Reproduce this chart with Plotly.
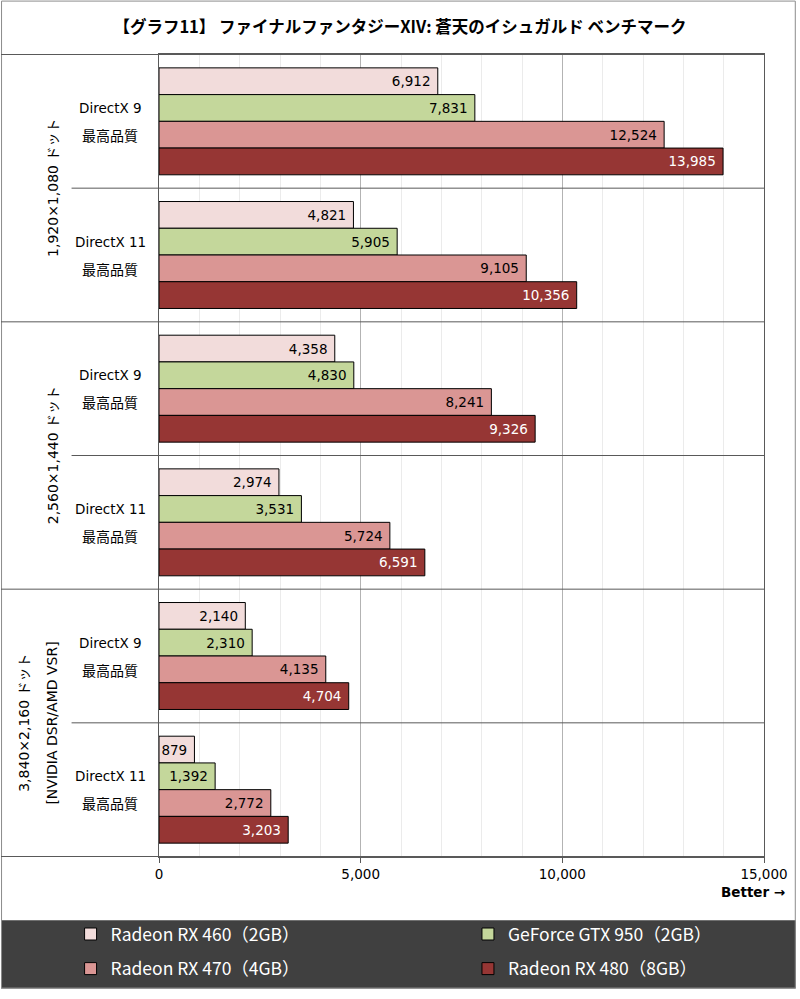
import plotly.graph_objects as go

resolutions = ["1,920×1,080 ドット", "2,560×1,440 ドット", "3,840×2,160 ドット"]
resolution_notes = ["", "", "[NVIDIA DSR/AMD VSR]"]
apis = ["DirectX 9", "DirectX 11"]
quality = "最高品質"
gpus = ["Radeon RX 460（2GB）", "GeForce GTX 950（2GB）", "Radeon RX 470（4GB）", "Radeon RX 480（8GB）"]
rx460 = [6912, 4821, 4358, 2974, 2140, 879]
gtx950 = [7831, 5905, 4830, 3531, 2310, 1392]
rx470 = [12524, 9105, 8241, 5724, 4135, 2772]
rx480 = [13985, 10356, 9326, 6591, 4704, 3203]
x_ticks = [0, 5000, 10000, 15000]
title = "【グラフ11】 ファイナルファンタジーXIV: 蒼天のイシュガルド ベンチマーク"

series = [rx460, gtx950, rx470, rx480]
colors = ["#F2DCDB", "#C4D79B", "#DA9694", "#963634"]
text_colors = ["black", "black", "black", "white"]
legend_ids = ["legend", "legend2", "legend3", "legend4"]
legend_pos = [(70, 944), (470, 944), (70, 979), (470, 979)]

W, H = 800, 999
L, R, T, B = 159, 768, 54, 866
def px(p):
    return (p - L) / (R - L)
def py(p):
    return (B - p) / (B - T)

LAT = "DejaVu Sans, Noto Sans CJK JP"
JP = "Noto Sans CJK JP"

cats = [f"{r} / {a}" for r in resolutions for a in apis]

fig = go.Figure()
for name, vals, c, tc, lg in zip(gpus, series, colors, text_colors, legend_ids):
    fig.add_trace(go.Bar(
        y=cats, x=vals, name=name, orientation="h",
        marker=dict(color=c, line=dict(color="black", width=1)),
        texttemplate="%{x:,}\u00a0", textposition="inside", insidetextanchor="end",
        textangle=0, textfont=dict(color=tc, size=13.5, family=LAT),
        legend=lg, hoverinfo="skip",
    ))

shapes = []
shapes.append(dict(type="rect", xref="paper", yref="paper", x0=px(0), x1=px(W), y0=py(930), y1=py(H),
                   fillcolor="#404040", line=dict(width=0), layer="below"))
shapes.append(dict(type="rect", xref="paper", yref="paper", x0=px(0.5), x1=px(W - 0.5), y0=py(0.5), y1=py(H - 0.5),
                   line=dict(color="#8c8c8c", width=1), fillcolor="rgba(0,0,0,0)"))
for yy in [-0.5, len(cats) - 0.5]:
    shapes.append(dict(type="line", xref="paper", yref="y", x0=px(0), x1=1, y0=yy, y1=yy,
                       line=dict(color="#595959", width=1)))
for i in range(1, len(cats)):
    major = (i % len(apis) == 0)
    shapes.append(dict(type="line", xref="paper", yref="y", x0=px(0) if major else px(71), x1=1,
                       y0=i - 0.5, y1=i - 0.5, line=dict(color="#595959", width=1)))

annotations = []
for i, cat in enumerate(cats):
    api = apis[i % len(apis)]
    annotations.append(dict(xref="paper", yref="y", x=px(110), y=i, yshift=13.5, text=api,
                            showarrow=False, font=dict(size=13.5, family=LAT, color="black"), xanchor="center"))
    annotations.append(dict(xref="paper", yref="y", x=px(110), y=i, yshift=-13.5, text=quality,
                            showarrow=False, font=dict(size=14, family=JP, color="black"), xanchor="center"))
for j, (res, note) in enumerate(zip(resolutions, resolution_notes)):
    yc = j * len(apis) + (len(apis) - 1) / 2
    if note:
        annotations.append(dict(xref="paper", yref="y", x=px(13), y=yc, text=res, textangle=-90,
                                showarrow=False, font=dict(size=14, family=LAT, color="black")))
        annotations.append(dict(xref="paper", yref="y", x=px(41), y=yc, text=note, textangle=-90,
                                showarrow=False, font=dict(size=14, family=LAT, color="black")))
    else:
        annotations.append(dict(xref="paper", yref="y", x=px(42), y=yc, text=res, textangle=-90,
                                showarrow=False, font=dict(size=14, family=LAT, color="black")))
annotations.append(dict(xref="paper", yref="paper", x=px(791), y=py(912), text="<b>Better →</b>",
                        xanchor="right", showarrow=False, font=dict(size=13.5, family=LAT, color="black")))

legend_layout = {}
for lg, (lx, ly) in zip(legend_ids, legend_pos):
    legend_layout[lg] = dict(orientation="h", x=px(lx), y=py(ly), xanchor="left", yanchor="middle",
                             bgcolor="rgba(0,0,0,0)", traceorder="normal", itemwidth=30,
                             font=dict(size=17.5, family=JP, color="white"))

fig.update_layout(
    width=W, height=H,
    margin=dict(l=L, r=W - R, t=T, b=H - B, pad=0),
    paper_bgcolor="white", plot_bgcolor="white",
    title=dict(text=f"<b>{title}</b>", x=0.5, xanchor="center", y=1 - 27 / H, yanchor="middle",
               font=dict(size=16.5, family=JP, color="black")),
    barmode="group", bargap=0.2, bargroupgap=0,
    uniformtext=dict(minsize=13.5, mode="show"),
    xaxis=dict(range=[0, 15000], tickvals=x_ticks, tickformat=",", showgrid=True, gridcolor="#B3B3B3",
               gridwidth=1, minor=dict(dtick=1000, showgrid=True, gridcolor="#EBEBEB", gridwidth=1),
               showline=True, linecolor="#595959", mirror=True, ticks="outside", ticklen=5,
               tickcolor="#595959", tickfont=dict(size=13.5, family=LAT, color="black"), zeroline=False,
               fixedrange=True),
    yaxis=dict(categoryorder="array", categoryarray=cats, autorange="reversed", showticklabels=False,
               showline=True, linecolor="#595959", mirror=True, ticks="", showgrid=False, zeroline=False),
    shapes=shapes, annotations=annotations,
    showlegend=True,
    **legend_layout,
)

fig.write_html("out.html", config={"displayModeBar": False},
               post_script="document.body.style.margin='0';document.body.style.padding='0';")
